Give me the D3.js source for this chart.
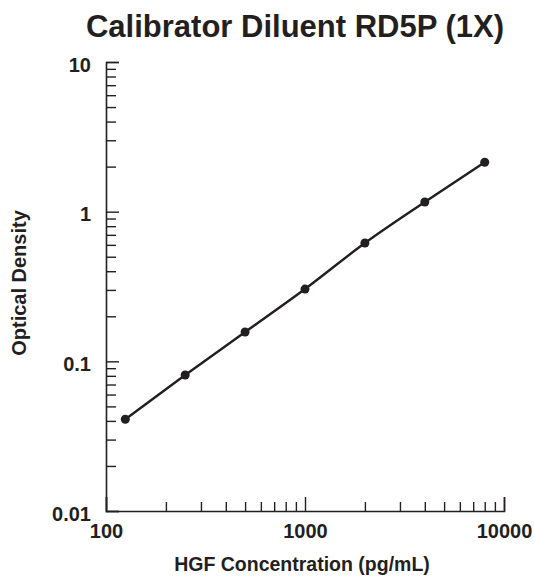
<!DOCTYPE html>
<html>
<head>
<meta charset="utf-8">
<script src="https://cdn.jsdelivr.net/npm/d3@7"></script>
<style>
  body { margin: 0; background: #fff; }
  text { font-family: "Liberation Sans", Arial, sans-serif; font-weight: bold; fill: #231f20; }
</style>
</head>
<body>
<script>
// Standard curve data
var concentration = [125, 250, 500, 1000, 2000, 4000, 8000];
var opticalDensity = [0.041, 0.081, 0.157, 0.304, 0.617, 1.16, 2.14];

var xTicks = [100, 1000, 10000];
var yTicks = [0.01, 0.1, 1, 10];
var xTickLabels = ['100', '1000', '10000'];
var yTickLabels = ['0.01', '0.1', '1', '10'];

var ink = '#231f20';

var margin = {top: 62, right: 30, bottom: 67, left: 106},
    width = 534 - margin.left - margin.right,
    height = 578 - margin.top - margin.bottom;

var xScale = d3.scaleLog().domain([100, 10000]).range([0, width]),
    yScale = d3.scaleLog().domain([0.01, 10]).range([height, 0]);

// minor tick positions: 2..9 in each decade
function minors(lo, hi) {
    var out = [];
    for (var d = lo; d < hi; d *= 10)
        for (var k = 2; k <= 9; k++) out.push(d * k);
    return out;
}

var svg = d3.select('body').append('svg')
            .attr('width', 534)
            .attr('height', 578);

var g = svg.append('g')
           .attr('transform', 'translate(' + margin.left + ',' + margin.top + ')');

// Title
svg.append('text')
   .text('Calibrator Diluent RD5P (1X)')
   .attr('x', 295)
   .attr('y', 37)
   .attr('text-anchor', 'middle')
   .style('font-size', '31px');

// Y axis, ticks pointing inward
var yMajor = g.append('g')
   .call(d3.axisLeft(yScale).tickValues(yTicks).tickSize(-13).tickPadding(15)
        .tickFormat(function(d, i) { return yTickLabels[i]; }));
var yMinor = g.append('g')
   .call(d3.axisLeft(yScale).tickValues(minors(0.01, 10)).tickSize(-10).tickFormat(''));

// X axis, ticks pointing up
var xMajor = g.append('g')
   .attr('transform', 'translate(0,' + height + ')')
   .call(d3.axisBottom(xScale).tickValues(xTicks).tickSize(-14).tickPadding(13)
        .tickFormat(function(d, i) { return xTickLabels[i]; }));
var xMinor = g.append('g')
   .attr('transform', 'translate(0,' + height + ')')
   .call(d3.axisBottom(xScale).tickValues(minors(100, 10000)).tickSize(-9).tickFormat(''));

[yMajor, yMinor, xMajor, xMinor].forEach(function(a) {
    a.select('.domain').attr('stroke', ink).attr('stroke-width', 1.6);
    a.selectAll('.tick line').attr('stroke', ink).attr('stroke-width', 1.4);
    a.selectAll('.tick text').style('font-size', '20px').style('font-family', null).attr('fill', ink);
});
yMinor.select('.domain').remove();
xMinor.select('.domain').remove();
yMajor.selectAll('.tick text').attr('dy', '0.45em');

// Axis titles
svg.append('text')
   .text('HGF Concentration (pg/mL)')
   .attr('x', 302)
   .attr('y', 571)
   .attr('text-anchor', 'middle')
   .style('font-size', '19.5px');

svg.append('text')
   .text('Optical Density')
   .attr('transform', 'translate(26,283) rotate(-90)')
   .attr('text-anchor', 'middle')
   .style('font-size', '20px');

// Curve through the standards
var points = concentration.map(function(c, i) { return [c, opticalDensity[i]]; });

var drawLine = d3.line()
    .x(function(d) { return xScale(d[0]); })
    .y(function(d) { return yScale(d[1]); })
    .curve(d3.curveMonotoneX);

g.append('path')
 .attr('d', drawLine(points))
 .attr('stroke', ink)
 .attr('fill', 'none')
 .attr('stroke-width', 2.4);

g.selectAll('circle')
 .data(points)
 .enter().append('circle')
 .attr('cx', function(d) { return xScale(d[0]); })
 .attr('cy', function(d) { return yScale(d[1]); })
 .attr('r', 4.5)
 .attr('fill', ink);
</script>
</body>
</html>
